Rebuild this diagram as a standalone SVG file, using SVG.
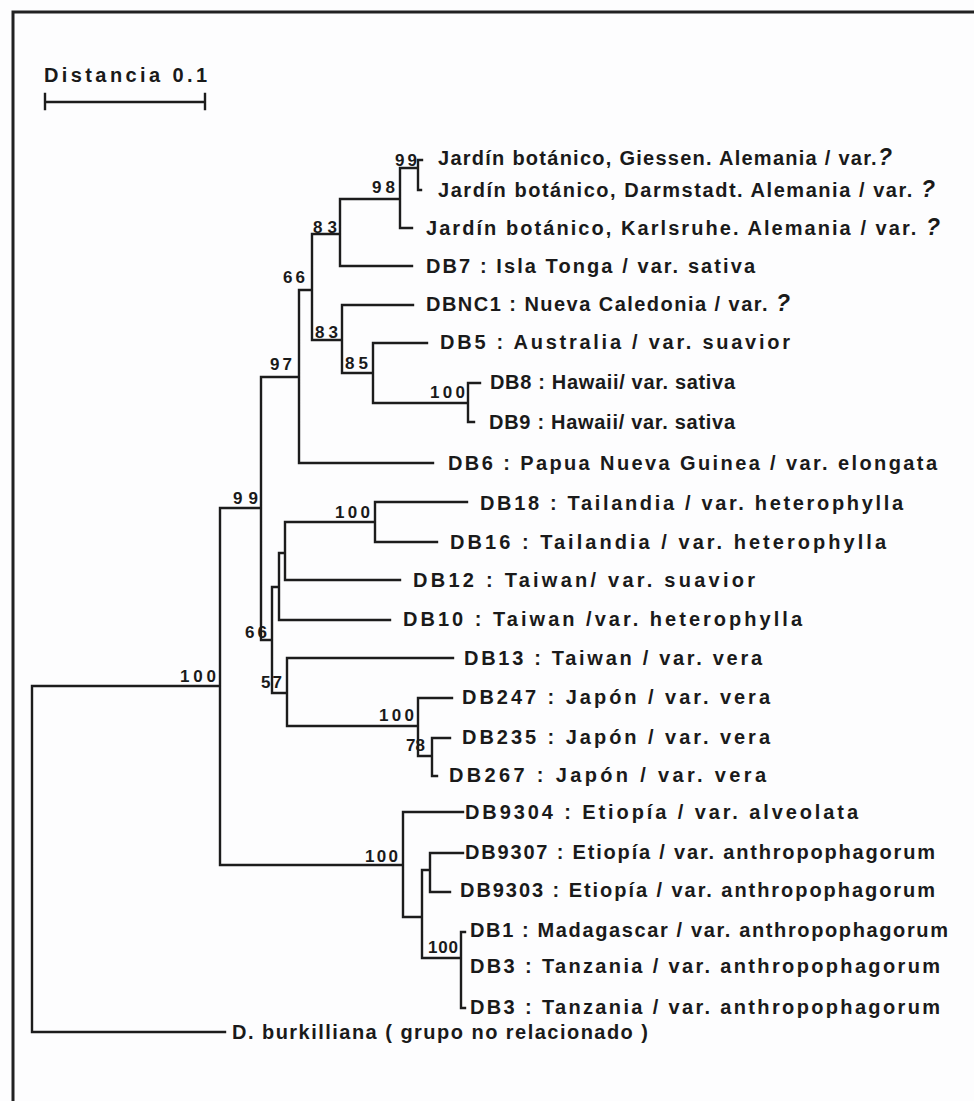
<svg xmlns="http://www.w3.org/2000/svg" width="974" height="1101" viewBox="0 0 974 1101">
<style>
.bg{fill:#fdfdfe}
.frame{stroke:#222;stroke-width:3;fill:none}
.br{stroke:#1c1c1c;stroke-width:2.4;fill:none;stroke-linecap:square}
.lb{font-family:"Liberation Sans",Arial,sans-serif;font-weight:bold;font-size:20px;fill:#1a1a1a}
.bs{font-family:"Liberation Sans",Arial,sans-serif;font-weight:bold;font-size:17px;fill:#1a1a1a}
.q{font-style:italic;font-size:23px}
</style>
<rect class="bg" x="0" y="0" width="974" height="1101"/>
<path class="frame" d="M13,1101 V12 H974"/>
<g id="scale">
<text class="lb" x="44" y="82" textLength="163" lengthAdjust="spacing">Distancia 0.1</text>
<path class="br" d="M45,102 H205 M45,94 V109 M205,94 V109"/>
</g>
<g id="connectors">
<path class="br" d="M32,686 V1032 M32,686 H220 M32,1032 H225
M220,508 V865 M220,508 H261 M220,865 H403
M261,377 V640 M261,377 H299 M261,640 H272
M299,290 V463 M299,463 H433 M299,290 H312
M312,234 V340 M312,234 H340
M340,199 V266 M340,266 H412 M340,199 H400
M400,168 V228 M400,228 H412 M400,168 H418
M418,160 V190 M418,160 H422 M418,190 H421
M312,340 H342 M342,305 V373 M342,305 H413 M342,373 H373
M373,343 V403 M373,343 H427 M373,403 H468
M468,383 V422 M468,383 H480 M468,422 H474
M272,587 V693 M272,587 H279
M279,553 V620 M279,620 H390 M279,553 H285
M285,522 V580 M285,580 H400 M285,522 H375
M375,502 V542 M375,502 H467 M375,542 H437
M272,693 H287 M287,658 V726 M287,658 H453 M287,726 H418
M418,698 V756 M418,698 H452 M418,756 H432
M432,738 V776 M432,738 H450 M432,776 H437
M403,812 V917 M403,812 H463 M403,917 H422
M422,870 V958 M422,870 H430
M430,853 V892 M430,853 H463 M430,892 H450
M422,958 H461 M461,932 V1008 M461,932 H465 M461,1008 H465"/>
</g>
<g id="supports">
<text class="bs" x="395" y="166" textLength="22" lengthAdjust="spacing">99</text>
<text class="bs" x="372" y="193" textLength="23" lengthAdjust="spacing">98</text>
<text class="bs" x="313" y="233" textLength="24" lengthAdjust="spacing">83</text>
<text class="bs" x="283" y="283" textLength="22" lengthAdjust="spacing">66</text>
<text class="bs" x="315" y="338" textLength="23" lengthAdjust="spacing">83</text>
<text class="bs" x="345" y="369" textLength="23" lengthAdjust="spacing">85</text>
<text class="bs" x="270" y="370" textLength="22" lengthAdjust="spacing">97</text>
<text class="bs" x="430" y="398" textLength="35" lengthAdjust="spacing">100</text>
<text class="bs" x="233" y="504" textLength="25" lengthAdjust="spacing">99</text>
<text class="bs" x="335" y="518" textLength="35" lengthAdjust="spacing">100</text>
<text class="bs" x="245" y="638" textLength="22" lengthAdjust="spacing">66</text>
<text class="bs" x="261" y="688" textLength="21" lengthAdjust="spacing">57</text>
<text class="bs" x="180" y="682" textLength="36" lengthAdjust="spacing">100</text>
<text class="bs" x="379" y="721" textLength="35" lengthAdjust="spacing">100</text>
<text class="bs" x="406" y="751" textLength="19" lengthAdjust="spacing">78</text>
<text class="bs" x="365" y="862" textLength="33" lengthAdjust="spacing">100</text>
<text class="bs" x="428" y="953" textLength="30" lengthAdjust="spacing">100</text>
</g>
<g id="leaf-giessen"><text class="lb" x="438" y="165" textLength="454" lengthAdjust="spacing">Jardín botánico, Giessen. Alemania / var.<tspan class="q">?</tspan></text></g>
<g id="leaf-darmstadt"><text class="lb" x="438" y="197" textLength="497" lengthAdjust="spacing">Jardín botánico, Darmstadt. Alemania / var. <tspan class="q">?</tspan></text></g>
<g id="leaf-karlsruhe"><text class="lb" x="426" y="235" textLength="514" lengthAdjust="spacing">Jardín botánico, Karlsruhe. Alemania / var. <tspan class="q">?</tspan></text></g>
<g id="leaf-db7"><text class="lb" x="426" y="273" textLength="329" lengthAdjust="spacing">DB7 : Isla Tonga / var. sativa</text></g>
<g id="leaf-dbnc1"><text class="lb" x="426" y="311" textLength="364" lengthAdjust="spacing">DBNC1 : Nueva Caledonia / var. <tspan class="q">?</tspan></text></g>
<g id="leaf-db5"><text class="lb" x="440" y="349" textLength="350" lengthAdjust="spacing">DB5 : Australia / var. suavior</text></g>
<g id="leaf-db8"><text class="lb" x="490" y="389" textLength="245" lengthAdjust="spacing">DB8 : Hawaii/ var. sativa</text></g>
<g id="leaf-db9"><text class="lb" x="489" y="429" textLength="246" lengthAdjust="spacing">DB9 : Hawaii/ var. sativa</text></g>
<g id="leaf-db6"><text class="lb" x="448" y="470" textLength="489" lengthAdjust="spacing">DB6 : Papua Nueva Guinea / var. elongata</text></g>
<g id="leaf-db18"><text class="lb" x="480" y="510" textLength="423" lengthAdjust="spacing">DB18 : Tailandia / var. heterophylla</text></g>
<g id="leaf-db16"><text class="lb" x="450" y="549" textLength="436" lengthAdjust="spacing">DB16 : Tailandia / var. heterophylla</text></g>
<g id="leaf-db12"><text class="lb" x="413" y="587" textLength="342" lengthAdjust="spacing">DB12 : Taiwan/ var. suavior</text></g>
<g id="leaf-db10"><text class="lb" x="403" y="626" textLength="399" lengthAdjust="spacing">DB10 : Taiwan /var. heterophylla</text></g>
<g id="leaf-db13"><text class="lb" x="464" y="665" textLength="298" lengthAdjust="spacing">DB13 : Taiwan / var. vera</text></g>
<g id="leaf-db247"><text class="lb" x="462" y="704" textLength="308" lengthAdjust="spacing">DB247 : Japón / var. vera</text></g>
<g id="leaf-db235"><text class="lb" x="462" y="744" textLength="308" lengthAdjust="spacing">DB235 : Japón / var. vera</text></g>
<g id="leaf-db267"><text class="lb" x="449" y="782" textLength="317" lengthAdjust="spacing">DB267 : Japón / var. vera</text></g>
<g id="leaf-db9304"><text class="lb" x="465" y="819" textLength="393" lengthAdjust="spacing">DB9304 : Etiopía / var. alveolata</text></g>
<g id="leaf-db9307"><text class="lb" x="465" y="859" textLength="470" lengthAdjust="spacing">DB9307 : Etiopía / var. anthropophagorum</text></g>
<g id="leaf-db9303"><text class="lb" x="460" y="897" textLength="475" lengthAdjust="spacing">DB9303 : Etiopía / var. anthropophagorum</text></g>
<g id="leaf-db1"><text class="lb" x="470" y="937" textLength="478" lengthAdjust="spacing">DB1 : Madagascar / var. anthropophagorum</text></g>
<g id="leaf-db3a"><text class="lb" x="470" y="973" textLength="470" lengthAdjust="spacing">DB3 : Tanzania / var. anthropophagorum</text></g>
<g id="leaf-db3b"><text class="lb" x="470" y="1014" textLength="470" lengthAdjust="spacing">DB3 : Tanzania / var. anthropophagorum</text></g>
<g id="leaf-burkilliana"><text class="lb" x="232" y="1039" textLength="416" lengthAdjust="spacing">D. burkilliana ( grupo no relacionado )</text></g>
</svg>
